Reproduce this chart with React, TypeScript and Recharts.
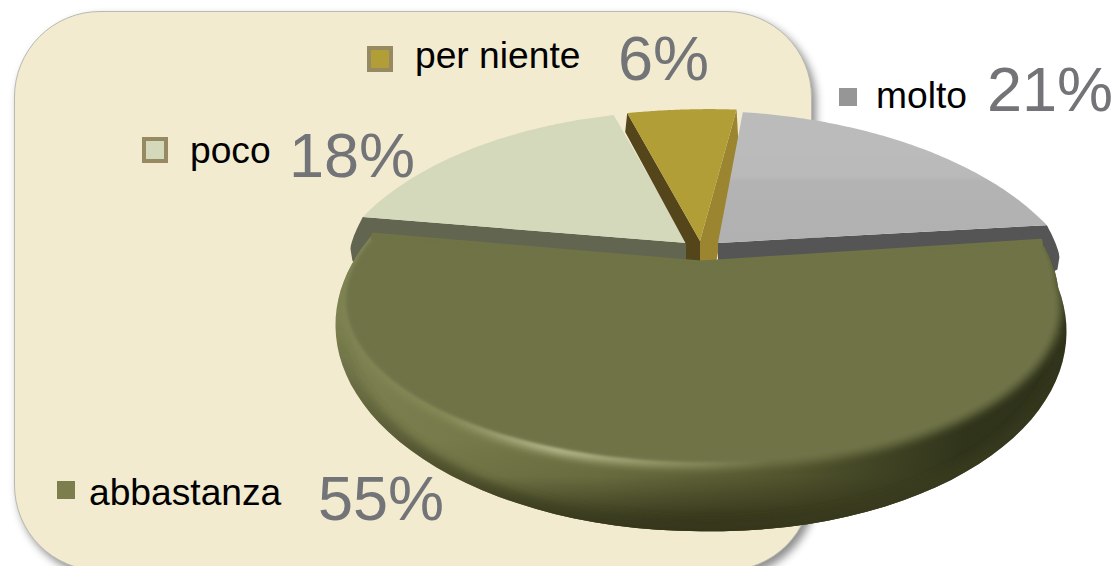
import { PieChart, Pie } from "recharts";

// drawn clockwise, the big slice last so it sits in front of the others
const categories = ["poco", "per niente", "molto", "abbastanza"];
const values = [18, 6, 21, 55];
const percentLabels = ["18%", "6%", "21%", "55%"];

const data = categories.map((name, i) => ({ name, value: values[i] }));

const WIDTH = 1120;
const HEIGHT = 566;
const CX = 701;
const CY = 262;
const RADIUS = 345;
const FACE = "#6f7346";

// perspective of the tilted disc: a/b are the half axes at the apex, k the foreshortening
type Lens = { a: number; b: number; k: number; shear?: number; skew?: number; bulge?: number };

const backLens: Lens = { a: 345, b: 175, k: 0.327 };
const moltoLens: Lens = { ...backLens, a: 350, shear: 0.025 };
const nienteLens: Lens = { ...backLens, a: 385, skew: 0.07 };
const faceLens: Lens = { a: 345, b: 153, k: 0.2346, shear: 0.018, bulge: 0.14 };
const outerLens: Lens = { a: 348, b: 186.8, k: 0.306, shear: 0.018, bulge: 0.14 };

const legendItems: Record<string, any> = {
  "per niente": { box: [367, 46, 26], fill: "#b29e37", border: "#978a62", tx: 415, ty: 68, px: 618, py: 80 },
  molto: { box: [839, 88, 18], fill: "#969696", tx: 876, ty: 108, px: 987, py: 111 },
  poco: { box: [142, 137, 26], fill: "#d5d9bb", border: "#978a62", tx: 190, ty: 163, px: 289, py: 177 },
  abbastanza: { box: [57, 481, 18], fill: "#7c7f4d", tx: 89, ty: 505, px: 318, py: 520 },
};

// shear and bulge only touch the right half, the top edge has a kink at the apex
const project = (cx: number, cy: number, deg: number, lens: Lens) => {
  const c = Math.cos((deg * Math.PI) / 180);
  const s = Math.sin((deg * Math.PI) / 180);
  const d = 1 + lens.k * s;
  let x = (lens.a * c) / d;
  const y = (-lens.b * s) / d;
  if (x > 0) x *= 1 + (lens.bulge ?? 0) * Math.max(s + 0.1, 0);
  return [cx + x - (lens.skew ?? 0) * y, cy + y + (lens.shear ?? 0) * Math.max(x, 0)];
};

const toPath = (pts: number[][]) => "M" + pts.map((p) => p[0].toFixed(1) + " " + p[1].toFixed(1)).join("L") + "Z";

const wedge = (cx: number, cy: number, start: number, end: number, lens: Lens) => {
  const pts = [[cx, cy]];
  const steps = 80;
  for (let i = 0; i <= steps; i++) {
    pts.push(project(cx, cy, start + ((end - start) * i) / steps, lens));
  }
  return toPath(pts);
};

// the visible wall under a back slice, rolling round its outer corner and on under the big slice
const wall = (cx: number, cy: number, corner: number, extra: number, depth: number, lens: Lens) => {
  const pts = [[cx, cy]];
  const steps = 16;
  for (let i = 0; i <= steps; i++) {
    const t = i / steps;
    const p = project(cx, cy, corner + extra * Math.sin((t * Math.PI) / 2), lens);
    pts.push([p[0], p[1] + depth * t]);
  }
  const last = pts[pts.length - 1];
  pts.push([last[0] + (last[0] > cx ? -2 : 2), last[1] + 12]);
  pts.push([last[0] + (last[0] > cx ? -14 : 14), last[1] + 18]);
  pts.push([cx, cy + depth]);
  return toPath(pts);
};

const poly = (pts: number[][]) => pts.map((p) => p.join(",")).join(" ");

const renderSlice = (props: any) => {
  const { cx, cy, startAngle, endAngle, name } = props;

  if (name === "abbastanza") {
    const outer = wedge(cx, cy, startAngle, endAngle, outerLens);
    const face = wedge(cx, cy, startAngle, endAngle, faceLens);
    const corners = [startAngle, endAngle].map((deg: number) => [
      [cx, cy],
      project(cx, cy, deg, outerLens),
      project(cx, cy, deg, faceLens),
    ]);
    return (
      <g>
        <clipPath id="outerClip">
          <path d={outer} />
        </clipPath>
        <path d={outer} fill="url(#sideAcross)" />
        <path d={outer} fill="url(#sideDown)" />
        <g clipPath="url(#outerClip)">
          <path d={outer} fill="none" stroke="url(#edgeShade)" strokeWidth={22} filter="url(#soft)" />
          <path d={face} fill="none" stroke="url(#rim)" strokeWidth={12} filter="url(#soft)" />
          <path d={face} fill={FACE} filter="url(#softer)" />
        </g>
        <path d={wedge(cx, cy, startAngle, endAngle, { ...faceLens, a: 338, b: 148 })} fill={FACE} />
        {corners.map((pts: number[][], i: number) => (
          <polygon key={i} points={poly(pts)} fill={FACE} stroke={FACE} strokeWidth={3} strokeLinejoin="round" />
        ))}
      </g>
    );
  }

  if (name === "per niente") {
    const ax = cx - 1;
    const ay = cy - 21;
    const left = project(ax, ay, startAngle, nienteLens);
    const right = project(ax, ay, endAngle, nienteLens);
    return (
      <g>
        <polygon
          fill="#54461a"
          points={poly([[ax, ay], left, [left[0] - 2, left[1] + 19], [ax - 14, ay + 3], [ax - 14, ay + 22], [ax, ay + 22]])}
        />
        <polygon
          fill="#9b8530"
          points={poly([[ax, ay], right, [right[0] + 2, right[1] + 35], [ax + 16, ay + 22], [ax, ay + 22]])}
        />
        <path d={wedge(ax, ay, startAngle, endAngle, nienteLens)} fill="#b29e37" />
      </g>
    );
  }

  if (name === "molto") {
    const ax = cx + 17;
    const ay = cy - 19;
    return (
      <g>
        <path d={wall(ax, ay, endAngle, -5, 18, moltoLens)} fill="#555555" />
        <path d={wedge(ax, ay, startAngle, endAngle, moltoLens)} fill="url(#moltoFace)" />
      </g>
    );
  }

  const ax = cx - 14;
  const ay = cy - 19;
  return (
    <g>
      <path d={wall(ax, ay, startAngle, 5, 18, backLens)} fill="#62654f" />
      <path d={wedge(ax, ay, startAngle, endAngle, backLens)} fill="#d5d9bb" />
    </g>
  );
};

const App = () => {
  return (
    <div style={{ position: "absolute", left: 0, top: 0, width: WIDTH, height: HEIGHT, overflow: "hidden", background: "#fff" }}>
      <div
        style={{
          position: "absolute",
          left: 14,
          top: 11,
          width: 798,
          height: 560,
          boxSizing: "border-box",
          borderRadius: 86,
          background: "#f2ebd0",
          border: "1px solid #b9b9b2",
          boxShadow: "4px 5px 9px rgba(0,0,0,0.45)",
        }}
      />
      <div style={{ position: "absolute", left: 0, top: 0 }}>
        <PieChart width={WIDTH} height={HEIGHT} margin={{ top: 0, right: 0, bottom: 0, left: 0 }}>
          <defs>
            <linearGradient id="sideAcross" gradientUnits="userSpaceOnUse" x1={336} y1={0} x2={1066} y2={0}>
              <stop offset="0" stopColor="#7d8151" />
              <stop offset="0.36" stopColor="#6f7242" />
              <stop offset="0.62" stopColor="#55582f" />
              <stop offset="0.86" stopColor="#30341b" />
              <stop offset="1" stopColor="#2e321a" />
            </linearGradient>
            <linearGradient id="sideDown" gradientUnits="userSpaceOnUse" x1={0} y1={440} x2={0} y2={531}>
              <stop offset="0" stopColor="#2e2f18" stopOpacity={0} />
              <stop offset="0.4" stopColor="#2e2f18" stopOpacity={0.1} />
              <stop offset="1" stopColor="#2b2c16" stopOpacity={1} />
            </linearGradient>
            <linearGradient id="edgeShade" gradientUnits="userSpaceOnUse" x1={0} y1={320} x2={0} y2={470}>
              <stop offset="0" stopColor="#3c3d20" stopOpacity={0} />
              <stop offset="1" stopColor="#3c3d20" stopOpacity={0.65} />
            </linearGradient>
            <linearGradient id="rim" gradientUnits="userSpaceOnUse" x1={346} y1={0} x2={1055} y2={0}>
              <stop offset="0" stopColor="#7f8353" />
              <stop offset="0.14" stopColor="#888c5a" />
              <stop offset="0.3" stopColor="#c0c498" />
              <stop offset="0.45" stopColor="#969a6a" />
              <stop offset="0.6" stopColor="#6f7346" />
              <stop offset="1" stopColor="#6f7346" />
            </linearGradient>
            <linearGradient id="moltoFace" gradientUnits="userSpaceOnUse" x1={0} y1={150} x2={0} y2={240}>
              <stop offset="0" stopColor="#bbbbbb" />
              <stop offset="0.3" stopColor="#b9b9b9" />
              <stop offset="0.35" stopColor="#b3b3b3" />
              <stop offset="1" stopColor="#b1b1b1" />
            </linearGradient>
            <filter id="soft" x="-10%" y="-10%" width="120%" height="120%">
              <feGaussianBlur stdDeviation="4" />
            </filter>
            <filter id="softer" x="-5%" y="-5%" width="110%" height="110%">
              <feGaussianBlur stdDeviation="1.5" />
            </filter>
          </defs>
          <Pie
            data={data}
            dataKey="value"
            nameKey="name"
            cx={CX}
            cy={CY}
            outerRadius={RADIUS}
            startAngle={171}
            endAngle={-189}
            stroke="none"
            shape={renderSlice}
            isAnimationActive={false}
          />
          {categories.map((name, i) => {
            const item = legendItems[name];
            const [x, y, size] = item.box;
            const inset = item.border ? 2 : 0;
            return (
              <g key={name}>
                <rect
                  x={x + inset}
                  y={y + inset}
                  width={size - inset * 2}
                  height={size - inset * 2}
                  fill={item.fill}
                  stroke={item.border ?? "none"}
                  strokeWidth={item.border ? 4 : 0}
                />
                <text x={item.tx} y={item.ty} fontFamily="'Liberation Sans', sans-serif" fontSize={37.2} fill="#000">
                  {name}
                </text>
                <text x={item.px} y={item.py} fontFamily="'Liberation Sans', sans-serif" fontSize={63} fill="#737477">
                  {percentLabels[i]}
                </text>
              </g>
            );
          })}
        </PieChart>
      </div>
    </div>
  );
};

export default App;
